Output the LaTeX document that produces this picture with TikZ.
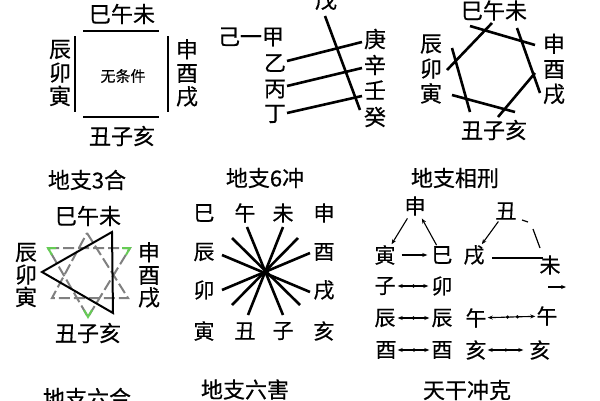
\documentclass[tikz,border=0pt]{standalone}
\usepackage{fontspec}
\newfontfamily\cjk[FakeBold=0.4]{Noto Sans CJK SC}
\usetikzlibrary{arrows.meta}
\definecolor{tgray}{HTML}{808080}
\definecolor{tgreen}{HTML}{66CC55}
\begin{document}
\begin{tikzpicture}[x=1pt,y=-1pt,
  zh/.style={font=\cjk\fontsize{22}{23.5}\selectfont, inner sep=0pt, align=center},
  zhw/.style={font=\cjk\fontsize{22}{25}\selectfont, inner sep=0pt, align=center},
  zhn/.style={font=\cjk\fontsize{22}{22.5}\selectfont, inner sep=0pt, align=center},
  zs/.style={font=\cjk\fontsize{21}{22}\selectfont, inner sep=0pt},
  ttl/.style={font=\cjk\fontsize{22}{23}\selectfont, inner sep=0pt},
  bar/.style={line width=2.6pt, line cap=butt},
  tri/.style={line width=2pt, line join=miter},
  gtri/.style={line width=2pt, draw=tgray, dash pattern=on 11pt off 4pt},
  gtip/.style={line width=2pt, draw=tgreen},
  arr/.style={line width=1.1pt, -{Stealth[length=5pt,width=4pt]}},
  darr/.style={line width=1.1pt, {Stealth[length=5pt,width=4pt]}-{Stealth[length=5pt,width=4pt]}},
  dotm/.style={fill=black, circle, inner sep=1.3pt}
]
\useasboundingbox (0,0) rectangle (600,400);
\clip (0,0) rectangle (600,400);
\fill[white] (0,0) rectangle (600,400);

% ---------- Panel 1 ----------
\node[zh] (p1t) at (122,14) {巳午未};
\node[zh] (p1l) at (60,73) {辰\\卯\\寅};
\node[zh] (p1r) at (187,73) {申\\酉\\戌};
\node[zh] (p1b) at (122,136) {丑子亥};
\node[font=\cjk\fontsize{15}{16}\selectfont, inner sep=0pt] (p1c) at (123,76) {无条件};
\draw[bar] (83,31) -- (159,31);
\draw[bar] (75,36) -- (75,112);
\draw[bar] (168,36) -- (168,112);
\draw[bar] (83,117) -- (159,117);
\node[ttl] (t1) at (87,180) {地支3合};

% ---------- Panel 2 ----------
\node[zh] (wu) at (326,0) {戊};
\node[zh] (jia) at (251,37) {己一甲};
\node[zh] (yi) at (275,63) {乙};
\node[zh] (bing) at (275,89) {丙};
\node[zh] (ding) at (275,114) {丁};
\node[zh] (geng) at (375,39) {庚};
\node[zh] (xin) at (375,65) {辛};
\node[zh] (ren) at (375,90) {壬};
\node[zh] (gui) at (375,117) {癸};
\draw[bar] (287,61) -- (362,42);
\draw[bar] (287,86) -- (362,68);
\draw[bar] (287,113) -- (362,96);
\draw[bar] (325,16) -- (360,110);
\node[ttl] (t2) at (265,178) {地支6冲};

% ---------- Panel 3 ----------
\node[zh] (p3t) at (494,10.5) {巳午未};
\node[zhw] (p3l) at (431,69) {辰\\卯\\寅};
\node[zhw] (p3r) at (554,69) {申\\酉\\戌};
\node[zh] (p3b) at (494,130) {丑子亥};
\draw[bar] (447,70) -- (492,23);
\draw[bar] (470,26) -- (535,45);
\draw[bar] (517,28) -- (540,93);
\draw[bar] (535,73) -- (498,117);
\draw[bar] (515,112) -- (452,95);
\draw[bar] (470,112) -- (452,48);
\node[ttl] (t3) at (455,178) {地支相刑};

% ---------- Panel 4 ----------
\node[zh] (p4t) at (88,216) {巳午未};
\node[zhn] (p4l) at (26,275) {辰\\卯\\寅};
\node[zhn] (p4r) at (149,275) {申\\酉\\戌};
\node[zh] (p4b) at (88,333) {丑子亥};
% upward gray triangle
\draw[gtri] (87,233) -- (128,298) -- (52,298) -- cycle;
% downward gray triangle with green tips
\draw[gtri] (48,248) -- (130,248) -- (88,317) -- cycle;
\draw[gtip] (56,248) -- (48,248) -- (52,255);
\draw[gtip] (122,248) -- (130,248) -- (126,255);
\draw[gtip] (84,310) -- (88,317) -- (92,310);
% black triangle
\draw[tri] (42,272) -- (112,232) -- (113,313) -- cycle;
\node[ttl] (t4) at (87,398) {地支六合};

% ---------- Panel 5 ----------
\node[zs] (h1) at (204,213) {巳};
\node[zs] (h2) at (245,213) {午};
\node[zs] (h3) at (283,213) {未};
\node[zs] (h4) at (324,213) {申};
\node[zs] (h5) at (204,252) {辰};
\node[zs] (h6) at (204,290) {卯};
\node[zs] (h7) at (204,331) {寅};
\node[zs] (h8) at (245,331) {丑};
\node[zs] (h9) at (283,331) {子};
\node[zs] (h10) at (324,331) {亥};
\node[zs] (h11) at (324,252) {酉};
\node[zs] (h12) at (324,290) {戌};
\draw[bar] (247,227) -- (283,315);
\draw[bar] (283,227) -- (248,315);
\draw[bar] (232,238) -- (300,305);
\draw[bar] (222,255) -- (310,292);
\draw[bar] (298,238) -- (232,305);
\draw[bar] (310,253) -- (222,290);
\node[ttl] (t5) at (245,389.5) {地支六害};

% ---------- Panel 6 ----------
\node[zs] (shen) at (415,206) {申};
\node[zs] (yin) at (385,255) {寅};
\node[zs] (si) at (442,255) {巳};
\node[zs] (xu) at (474,255) {戌};
\node[zs] (chou) at (506,211) {丑};
\node[zs] (wei) at (550,265) {未};
\node[zs] (zi) at (385,286) {子};
\node[zs] (mao) at (442,286) {卯};
\node[zs] (chen1) at (385,318) {辰};
\node[zs] (chen2) at (442,318) {辰};
\node[zs] (wu1) at (476,318) {午};
\node[zs] (wu2) at (547,316) {午};
\node[zs] (you1) at (386,350) {酉};
\node[zs] (you2) at (442,350) {酉};
\node[zs] (hai1) at (476,350) {亥};
\node[zs] (hai2) at (540,350) {亥};

\draw[arr, shorten <=3pt, shorten >=1pt] (shen) -- (yin);
\draw[arr, shorten <=1pt, shorten >=3pt] (si) -- (shen);
\draw[arr, shorten <=6pt, shorten >=4pt] (yin) -- (si);
\draw[darr, shorten <=2pt, shorten >=3pt] (zi) -- (mao);
\path (zi) -- (mao) node[dotm, midway] (dzm) {};
\draw[darr, shorten <=2pt, shorten >=2pt] (chen1) -- (chen2);
\path (chen1) -- (chen2) node[dotm, midway] (dcc) {};
\draw[darr, shorten <=1pt, shorten >=2pt] (you1) -- (you2);
\path (you1) -- (you2) node[dotm, midway] (dyy) {};
\draw[arr, shorten <=2pt, shorten >=1pt] (chou) -- (xu);
\coordinate (wa) at (540,248);
\coordinate (wb) at (533,229);
\coordinate (wc) at (528,222);
\coordinate (wd) at (522,220);
\draw[line width=1.2pt] (wa) -- (wb);
\draw[line width=1.2pt] (wc) -- (wd);
\coordinate (xa) at (492,258);
\coordinate (xb) at (543,258);
\draw[line width=1.2pt] (xa) -- (xb);
\coordinate (sa) at (548,287);
\coordinate (sb) at (566,287);
\draw[arr] (sa) -- (sb);
\draw[darr, shorten <=1pt, shorten >=1pt] (wu1) -- (wu2);
\path (wu1) -- (wu2) node[dotm, pos=0.42] (dw1) {} node[dotm, pos=0.62] (dw2) {};
\draw[darr, shorten <=1pt, shorten >=6pt] (hai1) -- (hai2);
\path (hai1) -- (hai2) node[dotm, pos=0.45] (dhh) {};
\node[ttl] (t6) at (467,390) {天干冲克};
\end{tikzpicture}
\end{document}
